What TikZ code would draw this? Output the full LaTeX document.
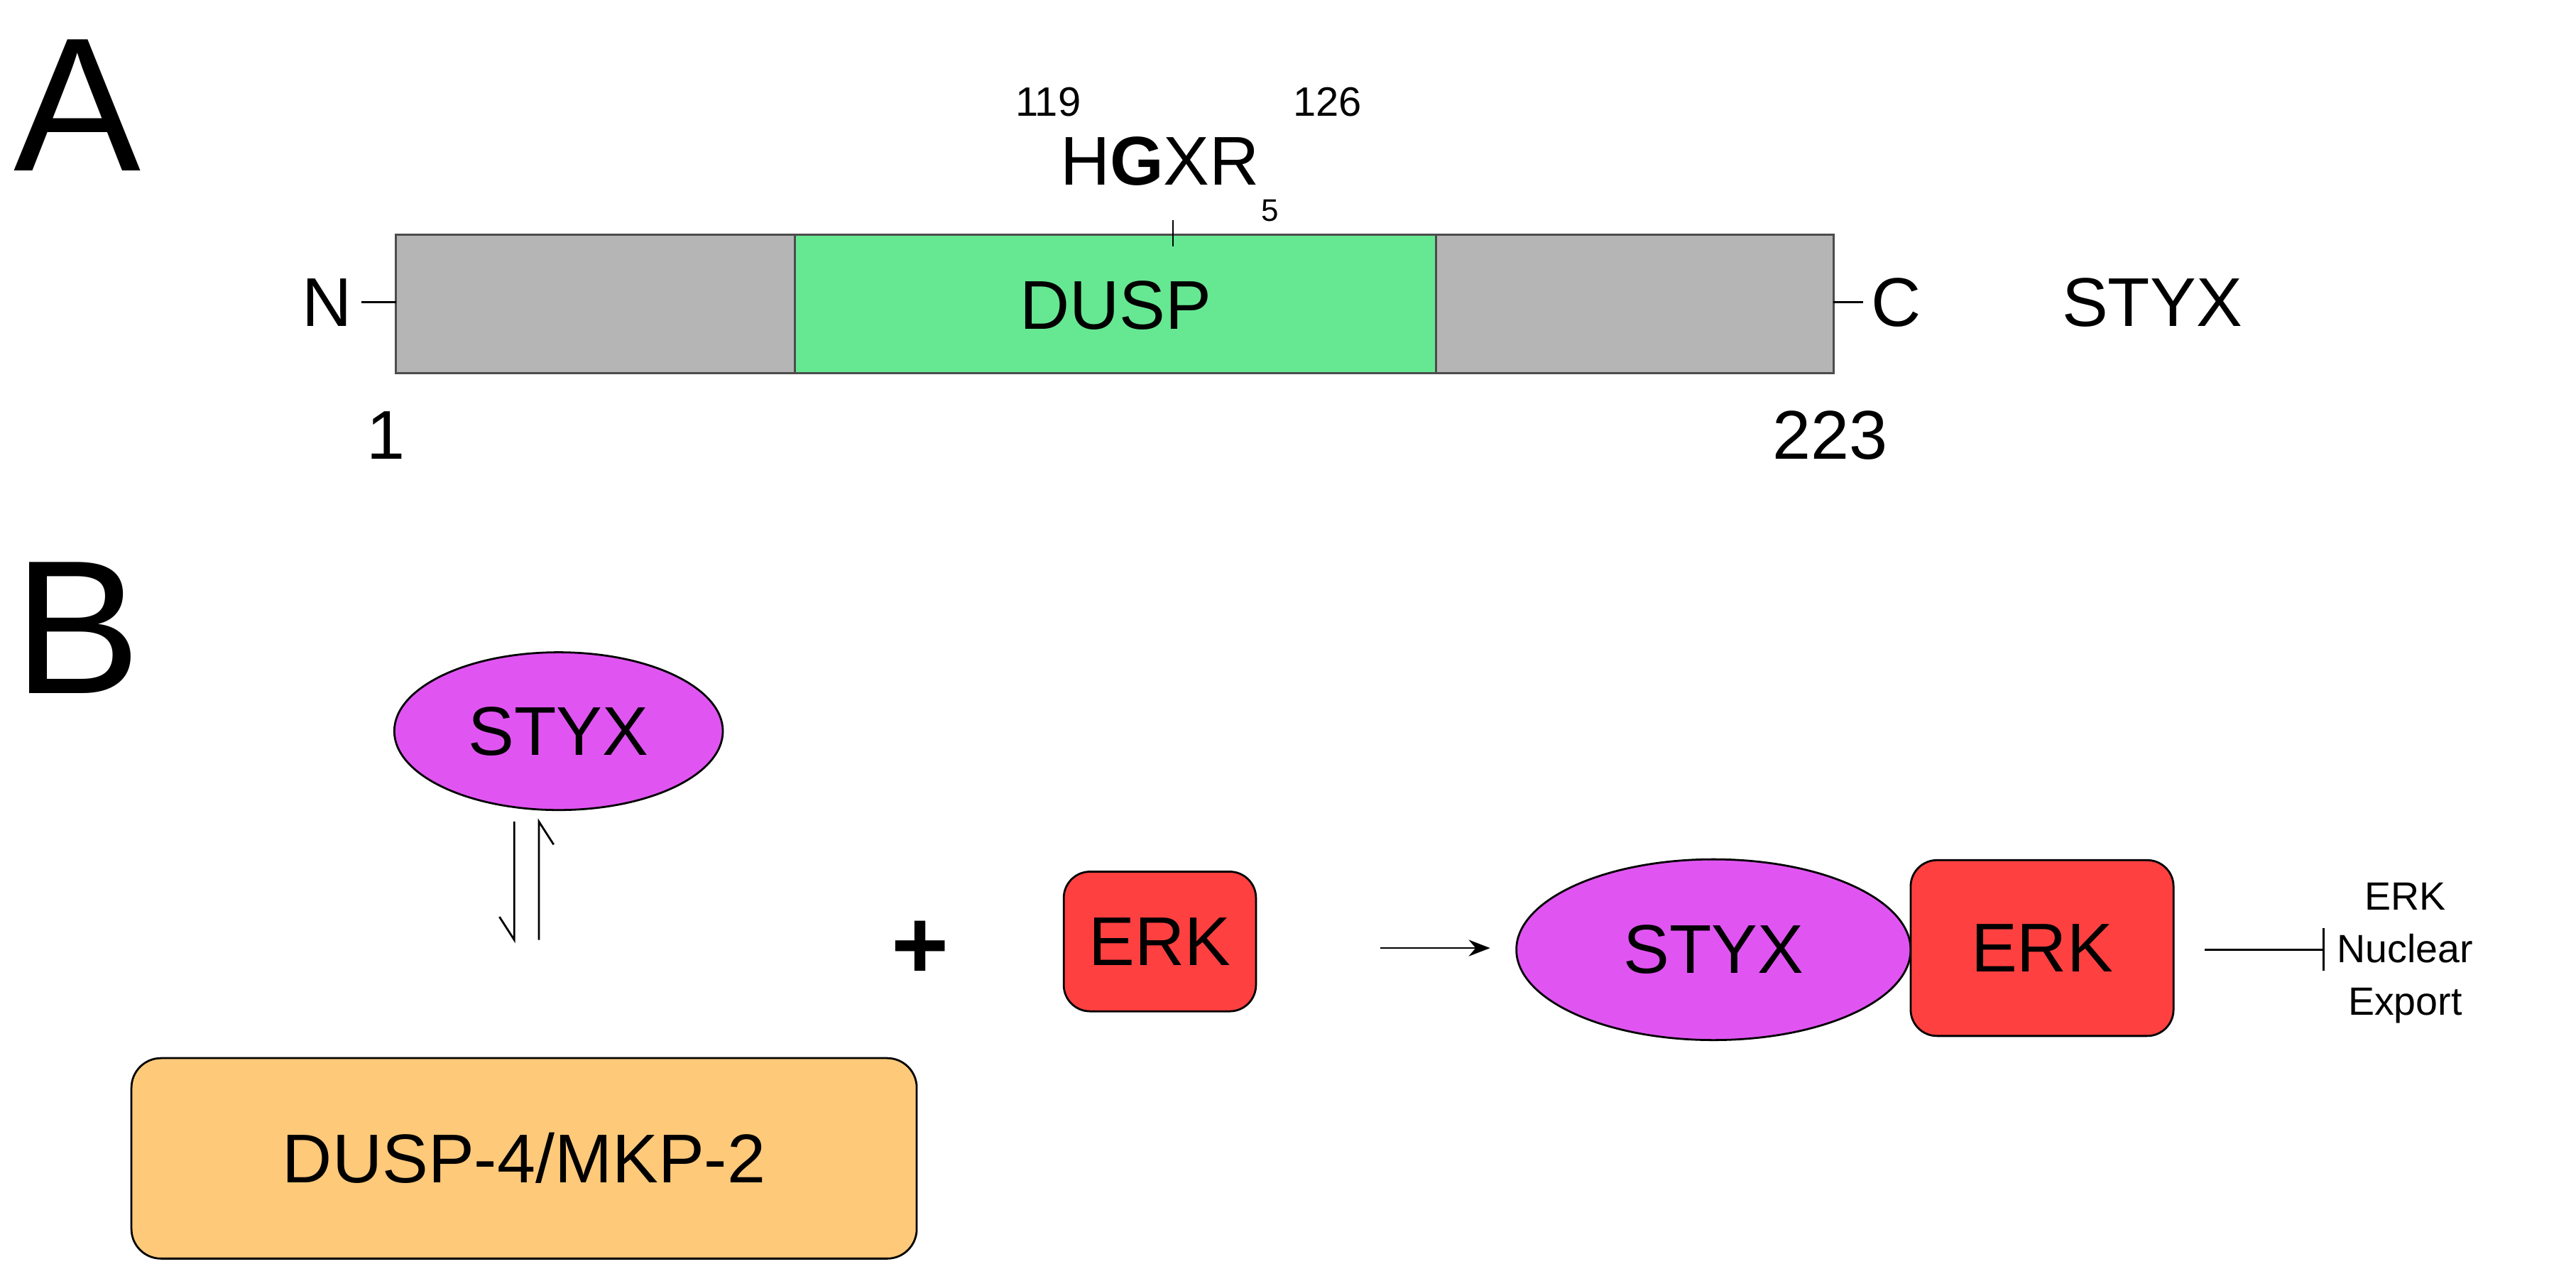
\documentclass[tikz,border=0pt]{standalone}
\usepackage{fontspec}
\setmainfont{Liberation Sans}
\usetikzlibrary{shapes.geometric,arrows.meta}
\definecolor{gbar}{HTML}{B5B5B5}
\definecolor{gdusp}{HTML}{66E892}
\definecolor{mag}{HTML}{E055F2}
\definecolor{erkr}{HTML}{FF4040}
\definecolor{orng}{HTML}{FFC97A}
\tikzset{
 px/.style={x=1pt,y=-1pt},
 mid/.style={font=\fontsize{42}{46}\selectfont},
 sm/.style={font=\fontsize{25}{27}\selectfont},
 bar/.style={draw=black!70,line width=1.2pt},
 erk/.style={draw=black,line width=1.2pt,fill=erkr,rounded corners=16pt,inner sep=0pt},
 sty/.style={draw=black,line width=1.2pt,fill=mag,ellipse,inner sep=0pt},
}
\begin{document}
\begin{tikzpicture}[px]
\useasboundingbox (0,0) rectangle (1568,769);
\node[font=\fontsize{116}{116}\selectfont] (A) at (47,64) {A};
\node[font=\fontsize{116}{116}\selectfont] (B) at (47,382) {B};
% bar
\filldraw[bar,fill=gbar] (241,143) rectangle (484,227);
\filldraw[bar,fill=gdusp] (484,143) rectangle (874,227);
\filldraw[bar,fill=gbar] (874,143) rectangle (1116,227);
\node[mid] (dusp) at (679,186) {DUSP};
\node[mid] (N) at (199,184) {N};
\node[mid] (C) at (1154,184) {C};
\coordinate (nl) at (220,184); \coordinate (nr) at (241,184);
\coordinate (cl) at (1116,184); \coordinate (cr) at (1134,184);
\draw[line width=1.2pt] (nl)--(nr) (cl)--(cr);
\node[mid] (styxA) at (1310,184) {STYX};
\node[mid] (one) at (235,265) {1};
\node[mid] (n223) at (1114,265) {223};
\coordinate (t1) at (714,134); \coordinate (t2) at (714,150);
\draw[line width=1.2pt] (t1)--(t2);
\node[mid] (hgxr) at (706,98) {H\textbf{G}XR};
\node[sm] (s119) at (638,62) {119};
\node[sm] (s126) at (808,62) {126};
\node[font=\fontsize{19}{21}\selectfont] (s5) at (773,128) {5};
% B
\node[sty,minimum width=200pt,minimum height=96pt,mid] (sty1) at (340,445) {STYX};
\node[draw=black,line width=1.2pt,fill=orng,rounded corners=18pt,minimum width=478pt,minimum height=122pt,mid] (dusp4) at (319,705) {DUSP-4/MKP-2};
\coordinate (h1t) at (313,500); \coordinate (h1b) at (313,572);
\coordinate (h2t) at (328,500); \coordinate (h2b) at (328,572);
\draw[line width=1.2pt] (h1t)--(h1b)--++(-9,-14);
\draw[line width=1.2pt] (h2b)--(h2t)--++(9,14);
\node[font=\fontsize{60}{60}\selectfont\bfseries] (plus) at (560,578) {+};
\node[erk,minimum width=117pt,minimum height=85pt,mid] (erk1) at (706,573) {ERK};
\node[sty,minimum width=240pt,minimum height=110pt,mid] (sty2) at (1043,578) {STYX};
\node[erk,minimum width=160pt,minimum height=107pt,mid] (erk2) at (1243,577) {ERK};
\coordinate (a1) at (840,577); \coordinate (a2) at (907,577);
\draw[line width=1.2pt,-{Stealth[length=13pt,width=10pt]}] (a1)--(a2);
\coordinate (i1) at (1342,578); \coordinate (i2) at (1415,578);
\draw[line width=1.4pt,-{Bar[width=26pt]}] (i1)--(i2);
\node[align=center,font=\fontsize{24}{32}\selectfont] (exp) at (1464,580) {ERK\\Nuclear\\Export};
\end{tikzpicture}
\end{document}
